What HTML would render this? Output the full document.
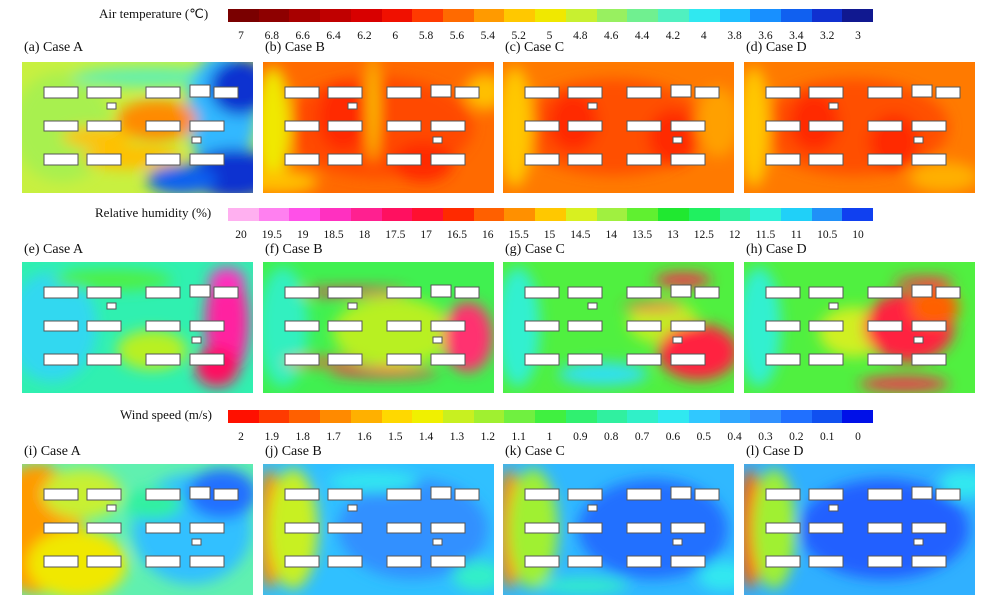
<!DOCTYPE html>
<html><head><meta charset="utf-8"><style>
body{margin:0;background:#fff;width:983px;height:603px;position:relative;overflow:hidden;font-family:"Liberation Serif",serif;color:#111}
.t{position:absolute;font-size:13px;white-space:nowrap}
.ttl{position:absolute;font-size:14px;white-space:nowrap}
.cb{position:absolute;left:228px;width:645px;height:13px;display:flex}
.cb div{flex:1}
.lab{position:absolute;font-size:11.5px;transform:translateX(-50%)}
svg{position:absolute}
</style></head><body>
<div id="root"></div>
<script>
const R=document.getElementById('root');let h='';
function bar(y,cols,labels,title,tx){
 h+=`<div class="t" style="left:${tx}px;top:${y-3}px">${title}</div><div class="cb" style="top:${y}px">`+cols.map(c=>`<div style="background:${c}"></div>`).join('')+'</div>';
 labels.forEach((l,i)=>{h+=`<div class="lab" style="left:${241+i*(617/(labels.length-1))}px;top:${y+21}px">${l}</div>`});
}
const T=['#7a0000','#8e0000','#a80000','#c00000','#d80000','#f01000','#ff3a00','#ff6a00','#ff9a00','#ffc800','#f0e800','#c8f030','#98f060','#70f090','#50f0c0','#30e8f0','#20c0ff','#1890ff','#1060f0','#1030d0','#101890'];
const H=['#ffb0f0','#ff80f0','#ff50e8','#ff30c0','#ff2090','#ff1060','#ff1030','#ff2a00','#ff6000','#ff9000','#ffc800','#d8f020','#a0f040','#60f030','#20e830','#20f060','#30f0a0','#30f0d8','#20d0f8','#2090f8','#1040f0'];
const W=['#ff1000','#ff3a00','#ff6000','#ff8a00','#ffb000','#ffd800','#f0f000','#c8f020','#a0f030','#70f040','#40f040','#30f070','#30f0a0','#30f0c8','#30e8f0','#30c8ff','#30a8ff','#3090ff','#2070ff','#1050f0','#0010e8'];
bar(9,T,['7','6.8','6.6','6.4','6.2','6','5.8','5.6','5.4','5.2','5','4.8','4.6','4.4','4.2','4','3.8','3.6','3.4','3.2','3'],'Air temperature (℃)',99);
bar(208,H,['20','19.5','19','18.5','18','17.5','17','16.5','16','15.5','15','14.5','14','13.5','13','12.5','12','11.5','11','10.5','10'],'Relative humidity (%)',95);
bar(410,W,['2','1.9','1.8','1.7','1.6','1.5','1.4','1.3','1.2','1.1','1','0.9','0.8','0.7','0.6','0.5','0.4','0.3','0.2','0.1','0'],'Wind speed (m/s)',120);
const xs=[22,263,503,744],ys=[62,262,464],tys=[40,242,444];
const names=['(a) Case A','(b) Case B','(c) Case C','(d) Case D','(e) Case A','(f) Case B','(g) Case C','(h) Case D','(i) Case A','(j) Case B','(k) Case C','(l) Case D'];
const P=[
 ['#c8f040',[[40,65,50,55,'#a8f050',1],[130,15,80,10,'#60f0b0',1],[200,50,35,60,'#30b8ff',1],[218,25,30,28,'#1030d0',1],[212,112,45,25,'#1030d0',1],[160,118,35,15,'#1060f0',1],[135,58,40,20,'#ff8a00',1],[75,75,35,10,'#ffc000',1],[110,95,50,12,'#ffc000',1]]],
 ['#ff6a00',[[115,65,95,50,'#ff4a00',1],[80,55,25,35,'#ff2a00',1],[160,100,30,20,'#ff2a00',1],[10,65,18,60,'#f0e800',1],[222,30,20,18,'#ffc000',1],[110,45,5,55,'#f8d000',1],[15,120,40,12,'#ffc000',1]]],
 ['#ff7a00',[[110,65,95,48,'#ff5000',1],[12,65,18,60,'#ffc800',1],[70,60,25,30,'#ff2a00',1],[170,75,25,28,'#ff2a00',1],[215,60,22,35,'#ffa000',1]]],
 ['#ff7a00',[[110,65,95,48,'#ff5000',1],[10,65,16,60,'#ffc800',1],[70,60,25,30,'#ff2a00',1],[150,80,25,28,'#ff2a00',1],[200,115,35,15,'#ffb000',1]]],
 ['#30f0b0',[[30,65,45,55,'#30d8f0',1],[205,60,22,55,'#ff20a0',1],[195,105,22,20,'#ff1060',1],[205,18,18,12,'#ff30c0',1],[130,88,35,20,'#b8f020',1],[90,18,60,10,'#50f040',1]]],
 ['#40f050',[[20,65,25,60,'#30f0c0',1],[130,70,60,35,'#b8f020',1],[205,75,25,35,'#ff3070',1],[120,110,55,5,'#ff2050',1],[90,30,55,4,'#ff2050',1],[60,100,40,4,'#ff5030',1]]],
 ['#50f040',[[15,65,22,60,'#30f0d0',1],[100,112,45,12,'#30e0f0',1],[160,60,35,22,'#c0f020',1],[195,90,40,28,'#ff2040',1],[180,18,28,7,'#ff2050',1],[150,45,30,4,'#ff2050',1]]],
 ['#50f040',[[15,65,22,60,'#30f0d0',1],[110,70,35,25,'#d0f020',1],[165,65,45,35,'#ff2040',1],[190,45,25,20,'#ff6000',1],[160,122,45,7,'#ff2050',1],[180,20,30,5,'#ff2050',1]]],
 ['#60f0b0',[[15,65,45,65,'#ff9a00',1],[55,100,50,35,'#f0e800',1],[60,30,40,25,'#c8f030',1],[170,65,60,55,'#30c0ff',1],[200,30,35,25,'#2070ff',1],[130,40,30,15,'#30f0a0',1]]],
 ['#30c0ff',[[6,65,12,60,'#ff8a00',1],[30,65,25,60,'#c8f020',1],[150,65,75,50,'#3090ff',1],[215,112,25,15,'#30f0c8',1],[110,18,45,10,'#30e8f0',1]]],
 ['#30b8ff',[[6,65,12,60,'#ff8a00',1],[30,65,25,60,'#a0f030',1],[150,65,75,50,'#2070ff',1],[220,112,25,15,'#30e8f0',1],[80,122,45,8,'#30f0c8',1]]],
 ['#30b0ff',[[6,65,12,60,'#ff6000',1],[30,65,22,60,'#a0f030',1],[140,65,85,50,'#2060ff',1],[220,20,25,15,'#30e8f0',1]]]
];
const B=[[22,25,34,11],[65,25,34,11],[124,25,34,11],[192,25,24,11],[22,59,34,10],[65,59,34,10],[124,59,34,10],[168,59,34,10],[22,92,34,11],[65,92,34,11],[124,92,34,11],[168,92,34,11],[85,41,9,6],[170,75,9,6]];
for(let r=0;r<3;r++)for(let c=0;c<4;c++){
 const k=r*4+c,[bg,bl]=P[k],x=xs[c],y=ys[r];
 h+=`<div class="ttl" style="left:${x+2}px;top:${tys[r]}px">${names[k]}</div>`;
 let s=`<svg style="left:${x}px;top:${y}px" width="231" height="131"><defs><filter id="f${k}" x="-20%" y="-20%" width="140%" height="140%"><feGaussianBlur stdDeviation="7"/></filter></defs><rect width="231" height="131" fill="${bg}"/><g filter="url(#f${k})">`;
 bl.forEach(b=>s+=`<ellipse cx="${b[0]}" cy="${b[1]}" rx="${b[2]}" ry="${b[3]}" fill="${b[4]}" opacity="${b[5]}"/>`);
 s+='</g>';
 B.forEach(b=>s+=`<rect x="${b[0]}" y="${b[1]}" width="${b[2]}" height="${b[3]}" fill="#fff" stroke="#555" stroke-width="1"/>`);
 s+=`<rect x="168" y="23" width="20" height="12" fill="#fff" stroke="#555"/>`;
 s+='</svg>';h+=s;
}
R.innerHTML=h;
</script>
</body></html>
